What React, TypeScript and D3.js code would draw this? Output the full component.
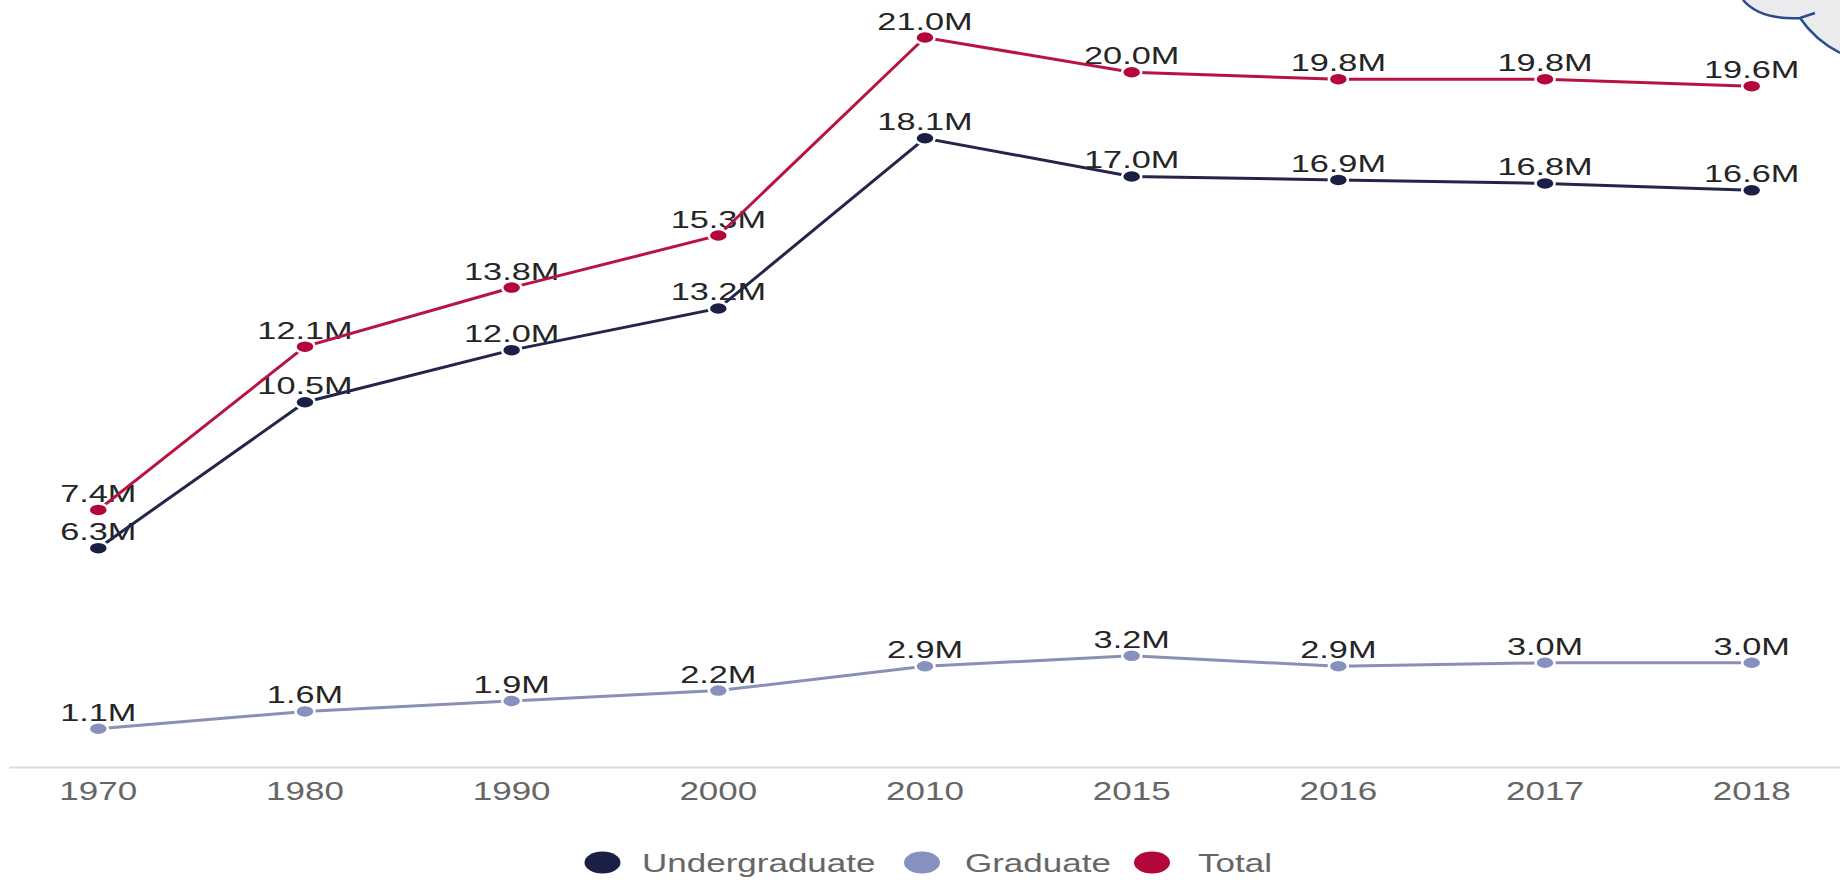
import React from "react";
import * as d3 from "d3";

const years = ["1970", "1980", "1990", "2000", "2010", "2015", "2016", "2017", "2018"];
const undergraduate = [6.3, 10.5, 12.0, 13.2, 18.1, 17.0, 16.9, 16.8, 16.6];
const graduate = [1.1, 1.6, 1.9, 2.2, 2.9, 3.2, 2.9, 3.0, 3.0];
const total = [7.4, 12.1, 13.8, 15.3, 21.0, 20.0, 19.8, 19.8, 19.6];

const seriesNames = ["Undergraduate", "Graduate", "Total"];
const seriesColors = ["#1b1e45", "#8890bf", "#b3063a"];
const lineColors = ["#23264a", "#8a8fb8", "#b81442"];

const W = 1840;
const H = 883;
const SX = 1.4; // horizontal stretch of text seen in reference

export default function App() {
  const x = d3.scalePoint<string>().domain(years).range([98.3, 1751.7]);
  const y = d3.scaleLinear().domain([0, 21]).range([767, 37.5]);
  const data = [undergraduate, graduate, total];

  const line = d3
    .line<number>()
    .x((_, i) => x(years[i]) as number)
    .y((d) => y(d));

  const fmt = (v: number) => d3.format(".1f")(v) + "M";

  const legendItems = [
    { cx: 602.5, tx: 642 },
    { cx: 922, tx: 965 },
    { cx: 1152, tx: 1198 },
  ];

  return (
    <svg
      width={W}
      height={H}
      style={{ position: "fixed", left: 0, top: 0, background: "#ffffff" }}
      fontFamily="'Liberation Sans', Arial, sans-serif"
    >
      <rect x={0} y={0} width={W} height={H} fill="#ffffff" />

      {/* callout shape top-right */}
      <path
        d="M1743,0 Q1760,20 1800,18 Q1815,40 1840,53 L1840,0 Z"
        fill="#ebebed"
      />
      <path
        d="M1743,0 Q1760,20 1800,18 L1815,13 M1800,18 Q1815,40 1840,53"
        fill="none"
        stroke="#2b4b8c"
        strokeWidth={2.5}
      />

      {/* axis line */}
      <line x1={9} x2={W} y1={767.5} y2={767.5} stroke="#dcdcdc" strokeWidth={2} />
      {years.map((yr) => (
        <text
          key={yr}
          transform={`translate(${x(yr)},800) scale(${SX},1)`}
          textAnchor="middle"
          fontSize={25}
          fill="#666666"
        >
          {yr}
        </text>
      ))}

      {/* data labels */}
      {data.map((vals, s) =>
        vals.map((v, i) => (
          <text
            key={`l${s}-${i}`}
            transform={`translate(${x(years[i])},${y(v) - 8}) scale(${SX},1)`}
            textAnchor="middle"
            fontSize={24.5}
            fill="#252525"
          >
            {fmt(v)}
          </text>
        ))
      )}

      {/* lines */}
      {data.map((vals, s) => (
        <path
          key={`p${s}`}
          d={line(vals) || ""}
          fill="none"
          stroke={lineColors[s]}
          strokeWidth={3}
        />
      ))}

      {/* dots */}
      {data.map((vals, s) =>
        vals.map((v, i) => (
          <ellipse
            key={`d${s}-${i}`}
            cx={x(years[i])}
            cy={y(v)}
            rx={9.5}
            ry={6.5}
            fill={seriesColors[s]}
            stroke="#ffffff"
            strokeWidth={2.5}
          />
        ))
      )}

      {/* legend */}
      {seriesNames.map((name, s) => (
        <g key={name}>
          <ellipse cx={legendItems[s].cx} cy={862.5} rx={18} ry={11} fill={seriesColors[s]} />
          <text
            transform={`translate(${legendItems[s].tx},872) scale(${SX},1)`}
            fontSize={25}
            fill="#666666"
          >
            {name}
          </text>
        </g>
      ))}
    </svg>
  );
}
